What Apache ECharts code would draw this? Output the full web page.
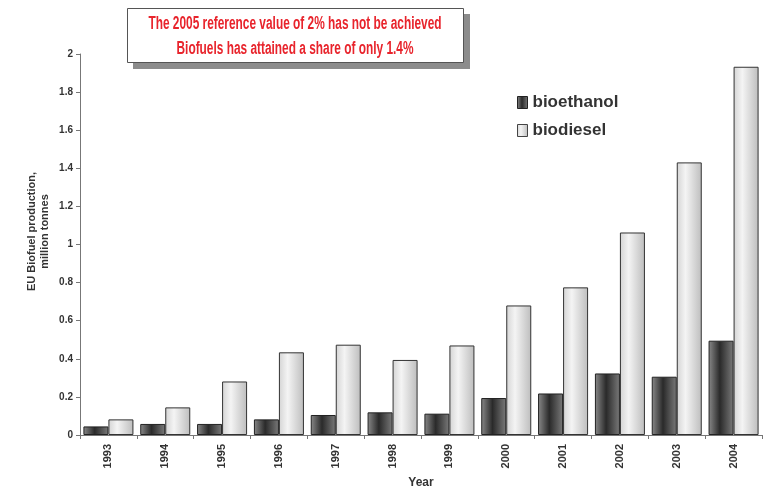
<!DOCTYPE html>
<html><head><meta charset="utf-8">
<script src="https://cdn.jsdelivr.net/npm/echarts@6/dist/echarts.min.js"></script>
<style>html,body{margin:0;padding:0;background:#fff}#c{width:766px;height:488px}</style>
</head><body><div id="c"></div>
<script>
const years = ['1993','1994','1995','1996','1997','1998','1999','2000','2001','2002','2003','2004'];
const bioethanol = [0.045,0.058,0.058,0.082,0.105,0.119,0.112,0.194,0.218,0.323,0.306,0.495];
const biodiesel = [0.082,0.145,0.281,0.434,0.474,0.394,0.47,0.68,0.775,1.063,1.431,1.933];
const titleLines = ['The 2005 reference value of 2% has not be achieved','Biofuels has attained a share of only 1.4%'];

const darkGrad = new echarts.graphic.LinearGradient(0,0,1,0,[
  {offset:0,color:'#8a8a8a'},{offset:0.45,color:'#2a2a2a'},{offset:1,color:'#7a7a7a'}]);
const lightGrad = new echarts.graphic.LinearGradient(0,0,1,0,[
  {offset:0,color:'#d4d4d4'},{offset:0.35,color:'#f4f4f4'},{offset:1,color:'#bdbdbd'}]);

const chart = echarts.init(document.getElementById('c'));
const bold = {fontFamily:'Liberation Sans, Arial, sans-serif', fontWeight:'bold', color:'#333'};
chart.setOption({
  animation:false,
  grid:{left:80,right:4,top:54,bottom:53,containLabel:false,outerBoundsMode:'none'},
  legend:{orient:'vertical',left:512,top:89,itemWidth:10,itemHeight:12,itemGap:11,icon:'rect',
    textStyle:Object.assign({fontSize:17},bold),
    data:[{name:'bioethanol',itemStyle:{color:darkGrad,borderColor:'#222',borderWidth:1}},
          {name:'biodiesel',itemStyle:{color:lightGrad,borderColor:'#444',borderWidth:1}}]},
  xAxis:{type:'category',data:years,
    name:'Year',nameLocation:'middle',nameGap:42,nameTextStyle:Object.assign({fontSize:12},bold),
    axisLine:{lineStyle:{color:'#777'}},
    axisTick:{show:true,length:4,lineStyle:{color:'#777'}},
    axisLabel:Object.assign({rotate:90,fontSize:11,margin:9},bold)},
  yAxis:{type:'value',min:0,max:2,interval:0.2,
    name:'EU Biofuel production,\nmillion tonnes',nameLocation:'middle',nameGap:29,nameRotate:90,
    nameMoveOverlap:false,
    nameTextStyle:Object.assign({fontSize:11,lineHeight:13,padding:[0,0,0,26]},bold),
    splitLine:{show:false},
    axisLine:{show:true,lineStyle:{color:'#777'}},
    axisTick:{show:true,length:4,lineStyle:{color:'#777'}},
    axisLabel:Object.assign({fontSize:10,margin:7},bold)},
  series:[
    {name:'bioethanol',type:'bar',data:bioethanol,barGap:'0%',barCategoryGap:'12%',
      itemStyle:{color:darkGrad,borderColor:'#222',borderWidth:1}},
    {name:'biodiesel',type:'bar',data:biodiesel,barGap:'0%',barCategoryGap:'12%',
      itemStyle:{color:lightGrad,borderColor:'#333',borderWidth:1}}
  ],
  graphic:[
    {type:'rect',left:133,top:14,shape:{width:337,height:55},style:{fill:'#8c8c8c'},z:10},
    {type:'rect',left:127,top:8,shape:{width:336,height:54},style:{fill:'#fff',stroke:'#555',lineWidth:1},z:11},
    {type:'text',x:295,y:12,scaleX:0.66,z:12,
      style:{text:titleLines.join('\n'),fill:'#e8242c',fontSize:18,lineHeight:25,align:'center',verticalAlign:'top',
        fontFamily:'Liberation Sans, Arial, sans-serif',fontWeight:'bold'}}
  ]
});
</script></body></html>
